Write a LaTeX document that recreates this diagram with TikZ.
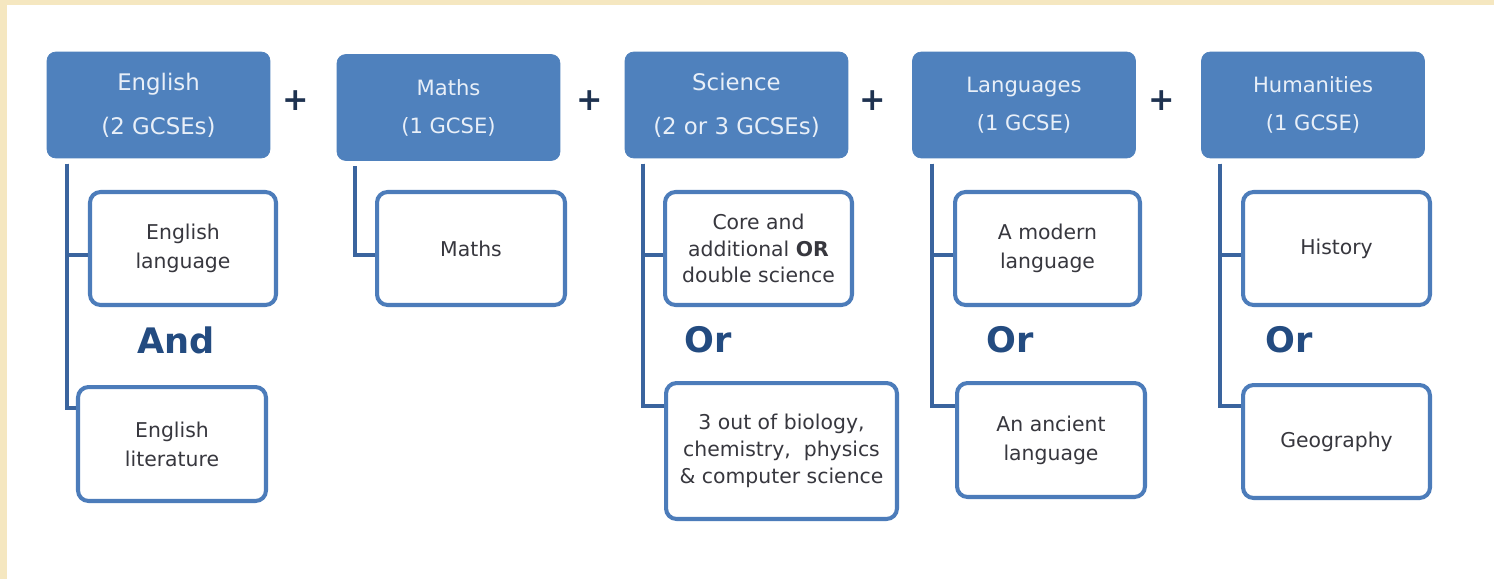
\documentclass[tikz,border=0pt]{standalone}
\usepackage{fontspec}
\setmainfont{DejaVu Sans}
\definecolor{hdrblue}{RGB}{79,129,189}
\definecolor{boxblue}{RGB}{76,124,186}
\definecolor{linkblue}{RGB}{58,100,158}
\definecolor{wordblue}{RGB}{35,75,128}
\definecolor{plusdark}{RGB}{30,50,80}
\definecolor{txtgray}{RGB}{55,55,62}
\definecolor{hdrtext}{RGB}{232,239,248}
\definecolor{beige}{RGB}{245,231,192}
\begin{document}
\begin{tikzpicture}[x=0.02cm,y=-0.02cm,
  hdr/.style={fill=hdrblue, draw=hdrblue, rounded corners=5pt, minimum width=4.46cm, minimum height=2.12cm, text=hdrtext, align=center, inner sep=0pt},
  hdrbig/.style={hdr, font=\fontsize{13}{25}\selectfont},
  hdrsmall/.style={hdr, font=\fontsize{12}{21.5}\selectfont},
  opt/.style={draw=boxblue, line width=2.3pt, fill=white, rounded corners=6pt, minimum width=3.74cm, minimum height=2.26cm, align=center, text=txtgray, inner sep=0pt, font=\fontsize{11.6}{16.5}\selectfont},
  optsmall/.style={opt, font=\fontsize{11.6}{15.3}\selectfont},
  link/.style={draw=linkblue, line width=2.3pt},
  joiner/.style={text=wordblue, font=\fontsize{20}{24}\selectfont\bfseries, inner sep=0pt},
  plus/.style={text=plusdark, font=\fontsize{18}{20}\selectfont\bfseries, inner sep=0pt}
]
\useasboundingbox (0,0) rectangle (1494,579);
\fill[white] (0,0) rectangle (1494,579);
\fill[beige] (0,0) rectangle (7,579);
\fill[beige] (0,0) rectangle (1494,5);

% headers
\node[hdrbig]   (eh) at (158.5,105) {English\\(2 GCSEs)};
\node[hdrsmall] (mh) at (448.5,107.5) {Maths\\(1 GCSE)};
\node[hdrbig]   (sh) at (736.5,105) {Science\\(2 or 3 GCSEs)};
\node[hdrsmall] (lh) at (1024,105) {Languages\\(1 GCSE)};
\node[hdrsmall] (hh) at (1313,105) {Humanities\\(1 GCSE)};

% plus signs
\node[plus] (p1) at (296,101) {+};
\node[plus] (p2) at (590,101) {+};
\node[plus] (p3) at (873,101) {+};
\node[plus] (p4) at (1162,101) {+};

% connector start points just below the headers
\coordinate (ev) at ([xshift=0.4cm,yshift=-3pt]eh.south west);
\coordinate (mv) at ([xshift=0.36cm,yshift=-3pt]mh.south west);
\coordinate (sv) at ([xshift=0.36cm,yshift=-3pt]sh.south west);
\coordinate (lv) at ([xshift=0.4cm,yshift=-3pt]lh.south west);
\coordinate (hv) at ([xshift=0.38cm,yshift=-3pt]hh.south west);

% options
\node[opt, minimum width=3.72cm] (el) at (183,248.5) {English\\language};
\node[opt, minimum width=3.76cm, minimum height=2.28cm] (elit) at (172,444) {English\\literature};
\node[opt, minimum width=3.76cm] (m1) at (471,248.5) {Maths};
\node[optsmall, minimum width=3.74cm] (s1) at (758.5,248.5) {Core and\\additional \textbf{OR}\\double science};
\node[optsmall, minimum width=4.62cm, minimum height=2.72cm] (s2) at (781.5,451) {3 out of biology,\\chemistry,~ physics\\\& computer science};
\node[opt, minimum width=3.70cm] (l1) at (1047.5,248.5) {A modern\\language};
\node[opt, minimum width=3.76cm, minimum height=2.28cm] (l2) at (1051,440) {An ancient\\language};
\node[opt] (h1) at (1336.5,248.5) {History};
\node[opt, minimum height=2.26cm] (h2) at (1336.5,441.5) {Geography};

% connectors
\draw[link] (ev) |- ([yshift=-3.7pt]el.west);
\draw[link] (ev) |- ([yshift=-13pt]elit.north west);
\draw[link] (mv) |- ([yshift=-3.7pt]m1.west);
\draw[link] (sv) |- ([yshift=-3.7pt]s1.west);
\draw[link] (sv) |- ([yshift=-14pt]s2.north west);
\draw[link] (lv) |- ([yshift=-3.7pt]l1.west);
\draw[link] (lv) |- ([yshift=-14pt]l2.north west);
\draw[link] (hv) |- ([yshift=-3.7pt]h1.west);
\draw[link] (hv) |- ([yshift=-13pt]h2.north west);

% joiner words
\node[joiner] (and) at (176,340) {And};
\node[joiner] (or1) at (708,340) {Or};
\node[joiner] (or2) at (1010,340) {Or};
\node[joiner] (or3) at (1289,340) {Or};
\end{tikzpicture}
\end{document}
